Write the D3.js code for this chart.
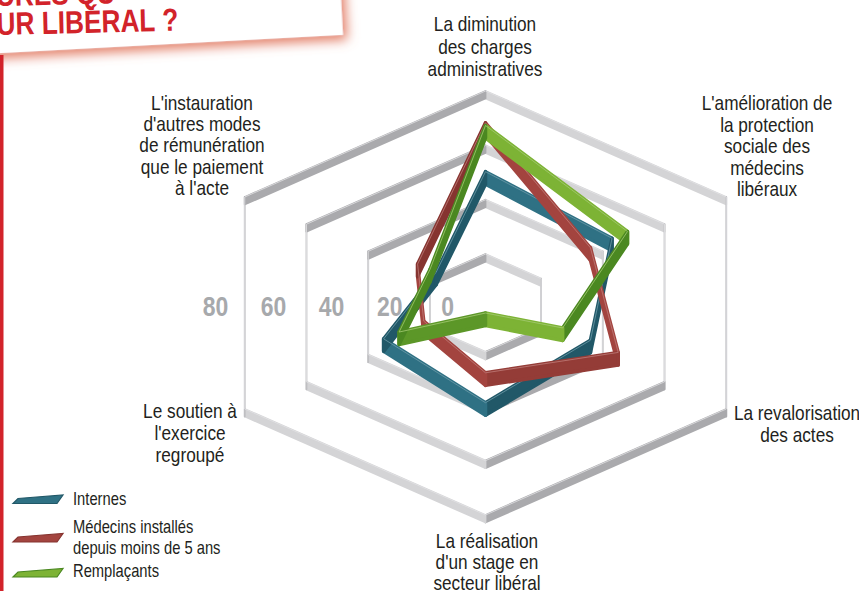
<!DOCTYPE html>
<html>
<head>
<meta http-equiv="Content-Type" content="text/html;charset=utf-8"/>
<title>Radar - mesures pour le secteur libéral</title>
<script src="https://d3js.org/d3.v7.min.js"></script>
<style type="text/css">
  body { margin: 0; background: #fff; }
  svg { display: block; }
</style>
</head>
<body>
<svg width="859" height="591"></svg>
<script type="text/javascript">
// categories, clockwise from the top
var axes = [
  ["La diminution", "des charges", "administratives"],
  ["L'amélioration de", "la protection", "sociale des", "médecins", "libéraux"],
  ["La revalorisation", "des actes"],
  ["La réalisation", "d'un stage en", "secteur libéral"],
  ["Le soutien à", "l'exercice", "regroupé"],
  ["L'instauration", "d'autres modes", "de rémunération", "que le paiement", "à l'acte"]
];
var seriesNames = ["Internes", "Médecins installés depuis moins de 5 ans", "Remplaçants"];
var internes    = [47, 43, 36, 42, 35, 18];
var medecins    = [65, 36, 45, 31, 22, 24];
var remplacants = [64, 48, 27, 9, 30, 20];
var ringValues = [20, 40, 60, 80];
var tickValues = [0, 20, 40, 60, 80];

// label placement (center x, first baseline, line height)
var labelPos = [
  [485, 31, 22.5], [767, 110, 21.5], [797, 420, 21.5],
  [487, 548, 21], [190, 418, 22], [202, 109.5, 21.4]
];

var svg = d3.select("svg");

// is the narrow face there? if not squeeze the regular one
var probe = svg.append("text").style("font-family", "'Liberation Sans Narrow'").style("font-size", "20px").text("abcdefghijklm");
var wNarrow = probe.node().getComputedTextLength();
probe.style("font-family", "'Liberation Sans'");
var wRegular = probe.node().getComputedTextLength();
probe.remove();
var hasNarrow = wNarrow < wRegular * 0.93;
var sx = hasNarrow ? 1 : 0.82;
var family = hasNarrow ? "'Liberation Sans Narrow'" : "'Liberation Sans'";

function label(g, str, x, y, size, anchor, weight, fill) {
  return g.append("text")
    .attr("transform", "translate(" + x + "," + y + ") scale(" + sx + ",1)")
    .attr("text-anchor", anchor || "middle")
    .style("font-family", family)
    .style("font-size", size + "px")
    .style("font-weight", weight || "normal")
    .style("fill", fill || "#231f20")
    .text(str);
}

// ---- title card (top left, mostly off page) ----
var defs = svg.append("defs");
var f = defs.append("filter").attr("id", "cardShadow")
  .attr("x", "-20%").attr("y", "-40%").attr("width", "150%").attr("height", "200%");
f.append("feGaussianBlur").attr("in", "SourceAlpha").attr("stdDeviation", 6).attr("result", "blur");
f.append("feOffset").attr("in", "blur").attr("dx", 4).attr("dy", 5).attr("result", "off");
f.append("feFlood").attr("flood-color", "#df6f55").attr("flood-opacity", 0.9);
f.append("feComposite").attr("in2", "off").attr("operator", "in").attr("result", "shadow");
var fm = f.append("feMerge");
fm.append("feMergeNode").attr("in", "shadow");
fm.append("feMergeNode").attr("in", "SourceGraphic");

svg.append("g").attr("transform", "rotate(-3.05)")
  .append("rect")
  .attr("x", -40).attr("y", -140).attr("width", 380.6).attr("height", 193.1)
  .attr("fill", "#fff").attr("filter", "url(#cardShadow)");

var title = svg.append("g").attr("transform", "rotate(-1.4)");
label(title, "URES QU", -4, 6, 32, "start", "bold", "#d2232a");
label(title, "UR LIBÉRAL ?", -4, 35, 32, "start", "bold", "#d2232a");

svg.append("rect").attr("x", 0).attr("y", 55).attr("width", 3.5).attr("height", 540).attr("fill", "#d2232a");

// ---- radar geometry ----
var cx = 485.5, cy = 303, RX = 278, RY = 212;
var lift = 9; // data plane drawn a bit above the grid
var r = d3.scaleLinear().domain([2, 80]).range([0, 1]);
var angle = d3.scaleLinear().domain([0, axes.length]).range([0, 2 * Math.PI]);

function project(i, v, up) {
  var a = angle(i), k = r(v);
  return [cx + RX * k * Math.sin(a), cy - (up || 0) - RY * k * Math.cos(a)];
}

// extruded ribbon: each edge becomes a small wall, shaded by which way it faces
function wall(g, pts, depth, light, dark, sw, hi) {
  var shade = d3.interpolateRgb(light, dark);
  pts.forEach(function(a, i) {
    var b = pts[(i + 1) % pts.length];
    var dx = b[0] - a[0], dy = b[1] - a[1], len = Math.hypot(dx, dy);
    var nx = -dy / len, ny = dx / len;
    if (ny < 0) { nx = -nx; ny = -ny; }
    var t = Math.max(0, Math.min(1, (nx + 0.05) / 0.4));
    if (Math.abs(dx) < 0.5) t = 0.5;
    var c = shade(t);
    g.append("path")
      .attr("d", "M" + a + "L" + b + "L" + [b[0], b[1] + depth] + "L" + [a[0], a[1] + depth] + "Z")
      .attr("fill", c).attr("stroke", c)
      .attr("stroke-width", sw).attr("stroke-linejoin", "round");
  });
  if (hi) {
    g.append("path")
      .attr("d", d3.line()(pts.concat([pts[0]])))
      .attr("fill", "none").attr("stroke", hi)
      .attr("stroke-width", 0.8).attr("stroke-linejoin", "round");
  }
}

// grid rings
var grid = svg.append("g");
ringValues.forEach(function(v) {
  var pts = axes.map(function(_, i) { return project(i, v); });
  wall(grid, pts, 7.5, "#d4d4d6", "#aaaaad", 1.8, "#e2e2e4");
});

// tick labels along the left
var tickX = d3.scaleLinear().domain([0, 80]).range([447.7, 215.5]);
var ticks = svg.append("g");
tickValues.forEach(function(v) {
  label(ticks, String(v), tickX(v), 316, 28, "middle", "bold", "#a7a9ac");
});

// category labels
var cats = svg.append("g");
axes.forEach(function(lines, i) {
  var p = labelPos[i];
  lines.forEach(function(s, j) {
    label(cats, s, p[0], p[1] + j * p[2], 21);
  });
});

// series
var series = [
  { name: seriesNames[0], values: internes,    light: "#2f7184", dark: "#215868" },
  { name: seriesNames[1], values: medecins,    light: "#a3443f", dark: "#863430" },
  { name: seriesNames[2], values: remplacants, light: "#7db335", dark: "#4b8821" }
];
var dataG = svg.append("g");
series.forEach(function(s) {
  var pts = s.values.map(function(v, i) { return project(i, v, lift); });
  wall(dataG.append("g"), pts, 12.5, s.light, s.dark, 3.5,
       d3.interpolateRgb(s.light, "#ffffff")(0.3));
});

// legend
var legend = svg.append("g");
var legendY = [499, 537.5, 572.5];
var swatch = [[0, 4.5], [5, -0.5], [50, -4], [44, 4.5]];
series.forEach(function(s, k) {
  var y = legendY[k];
  legend.append("polygon")
    .attr("points", swatch.map(function(p) { return [13 + p[0], y + p[1]]; }).join(" "))
    .attr("fill", s.light).attr("stroke", s.dark).attr("stroke-width", 1.2);
});
label(legend, "Internes", 73, 505, 18, "start");
label(legend, "Médecins installés", 73, 533, 18, "start");
label(legend, "depuis moins de 5 ans", 73, 554, 18, "start");
label(legend, "Remplaçants", 73, 577, 18, "start");
</script>
</body>
</html>
